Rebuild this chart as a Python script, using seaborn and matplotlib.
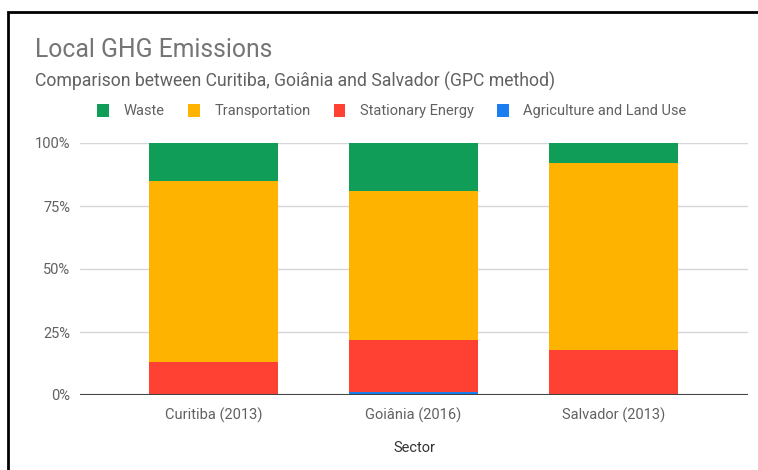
import matplotlib
matplotlib.use("Agg")
import matplotlib.pyplot as plt
from matplotlib.patches import Patch, Rectangle
from matplotlib.ticker import FuncFormatter
import numpy as np
import pandas as pd
import seaborn as sns

# data (percent of total local emissions)
cities = ["Curitiba (2013)", "Goiânia (2016)", "Salvador (2013)"]
agriculture = [0, 1, 0]
stationary = [13, 21, 18]
transportation = [72, 59, 74]
waste = [15, 19, 8]

sectors = ["Waste", "Transportation", "Stationary Energy", "Agriculture and Land Use"]
colors = {"Waste": "#0F9D58", "Transportation": "#FDB300",
          "Stationary Energy": "#FF4134", "Agriculture and Land Use": "#1A7EF0"}

sns.set_theme(style="white")
plt.rcParams["font.family"] = ["Roboto", "DejaVu Sans"]

df = pd.DataFrame({"city": cities, "Agriculture and Land Use": agriculture,
                   "Stationary Energy": stationary, "Transportation": transportation,
                   "Waste": waste})
# cumulative tops, bottom sector first
stack_order = ["Agriculture and Land Use", "Stationary Energy", "Transportation", "Waste"]
cum = df[stack_order].cumsum(axis=1)

fig = plt.figure(figsize=(7.58, 4.70), dpi=100)
ax = fig.add_axes([80 / 758, 1 - 395 / 470, 668 / 758, 252 / 470])

# draw tallest layer first so the lower layers sit on top
for sec in reversed(stack_order):
    sns.barplot(x=df["city"], y=cum[sec], color=colors[sec], width=0.645,
                saturation=1, linewidth=0, edgecolor="none", ax=ax, zorder=3)

ax.set_xlim(-0.6675, 2.6725)
ax.set_ylim(0, 100)
ax.set_yticks([0, 25, 50, 75, 100])
ax.yaxis.set_major_formatter(FuncFormatter(lambda v, p: f"{v:.0f}%"))
ax.grid(axis="y", color="#d6d6d6", lw=1, zorder=0)
ax.axhline(0, color="#444444", lw=1.5, zorder=4)
for s in ax.spines.values():
    s.set_visible(False)
ax.tick_params(axis="both", length=0, labelsize=10.5, labelcolor="#616161")
ax.tick_params(axis="y", pad=7)
ax.tick_params(axis="x", pad=9)
ax.set_ylabel("")
ax.set_xlabel("Sector", fontsize=10.5, color="#333333", labelpad=13)

fig.text(35 / 758, 1 - 57 / 470, "Local GHG Emissions", fontsize=17.8,
         color="#757575", va="baseline")
fig.text(35 / 758, 1 - 87 / 470,
         "Comparison between Curitiba, Goiânia and Salvador (GPC method)",
         fontsize=12.7, color="#616161", va="baseline")

handles = [Patch(facecolor=colors[s], edgecolor="none", label=s) for s in sectors]
fig.legend(handles=handles, loc="center", ncol=4, frameon=False,
           bbox_to_anchor=(392 / 758, 1 - 111 / 470), fontsize=10.5,
           handlelength=0.8, handleheight=1.0, handletextpad=1.0,
           columnspacing=1.6, labelcolor="#616161")

fig.patches.append(Rectangle((8 / 758, -0.2), 1.2, 0.2 + 1 - 12 / 470,
                             transform=fig.transFigure, fill=False,
                             edgecolor="black", lw=2, clip_on=False))

fig.savefig("out.png", dpi=100)
